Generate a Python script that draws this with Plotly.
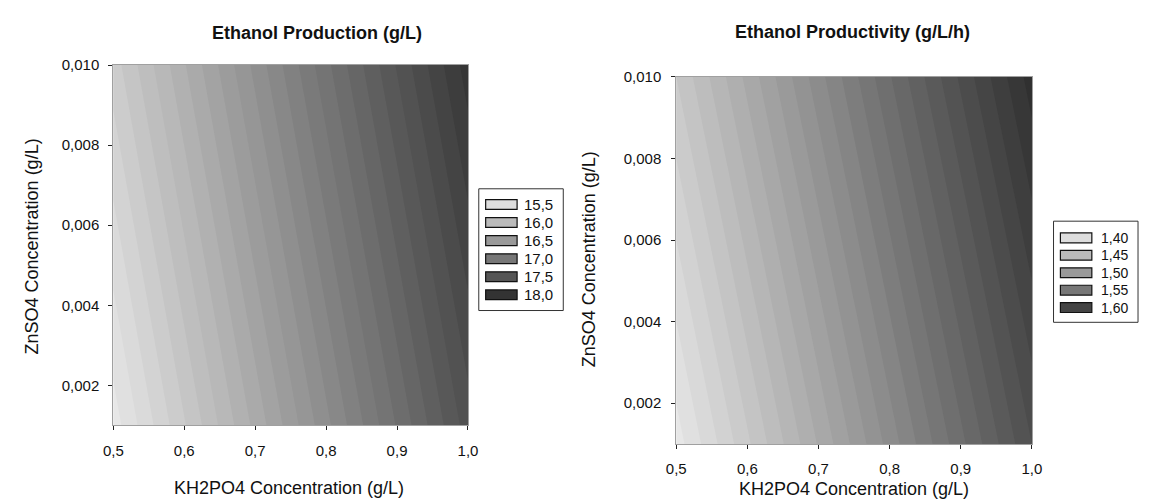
import plotly.graph_objects as go

# ---------------- data ----------------
kh2po4 = [0.5, 0.75, 1.0]            # x: KH2PO4 concentration (g/L)
znso4 = [0.001, 0.0055, 0.010]       # y: ZnSO4 concentration (g/L)

# Ethanol production (g/L), rows = znso4, cols = kh2po4
production = [
    [15.35, 16.45, 17.55],
    [15.55, 16.65, 17.75],
    [15.75, 16.85, 17.95],
]
# Ethanol productivity (g/L/h)
productivity = [
    [1.385, 1.4925, 1.600],
    [1.4075, 1.515, 1.6225],
    [1.430, 1.5375, 1.645],
]

prod_legend = ["15,5", "16,0", "16,5", "17,0", "17,5", "18,0"]
prod_legend_colors = ["#dddddd", "#bbbbbb", "#999999", "#777777", "#555555", "#333333"]
pvty_legend = ["1,40", "1,45", "1,50", "1,55", "1,60"]
pvty_legend_colors = ["#dddddd", "#bbbbbb", "#999999", "#777777", "#444444"]

titles = ["Ethanol Production (g/L)", "Ethanol Productivity (g/L/h)"]
xlabel = "KH2PO4 Concentration (g/L)"
ylabel = "ZnSO4 Concentration (g/L)"

# ---------------- layout helpers ----------------
OFF = 8                      # page body margin
W, H = 1149 - OFF, 499 - OFF
FONT = "Liberation Sans, Arial, sans-serif"


def px(x):
    return (x - OFF) / W


def py(y):
    return 1 - (y - OFF) / H


gray = [[0, "#ffffff"], [1, "#111111"]]

fig = go.Figure()
fig.add_trace(go.Contour(
    x=kh2po4, y=znso4, z=production,
    zmin=15.0, zmax=18.5, colorscale=gray, showscale=False,
    contours=dict(start=15.0, end=18.5, size=0.1, coloring="fill", showlines=False),
    line=dict(width=0), xaxis="x", yaxis="y", hoverinfo="skip",
))
fig.add_trace(go.Contour(
    x=kh2po4, y=znso4, z=productivity,
    zmin=1.35, zmax=1.70, colorscale=gray, showscale=False,
    contours=dict(start=1.35, end=1.70, size=0.01, coloring="fill", showlines=False),
    line=dict(width=0), xaxis="x2", yaxis="y2", hoverinfo="skip",
))

axis_common = dict(
    showgrid=False, zeroline=False, showline=True, linecolor="#a0a0a0", linewidth=1,
    mirror=True, ticks="outside", ticklen=4, tickcolor="#222222", tickwidth=1,
    tickfont=dict(family=FONT, size=15, color="#111111"),
)

fig.update_layout(
    width=W, height=H,
    margin=dict(l=0, r=0, t=0, b=0),
    paper_bgcolor="white", plot_bgcolor="white",
    separators=", ",
    showlegend=False,
    font=dict(family=FONT, color="#111111"),
    xaxis=dict(domain=[px(105), px(466)], range=[0.5, 1.0], tickvals=[0.5, 0.6, 0.7, 0.8, 0.9, 1.0],
               tickformat=".1f", anchor="y", ticklabelstandoff=8, **axis_common),
    yaxis=dict(domain=[py(424), py(57)], range=[0.001, 0.010], tickvals=[0.002, 0.004, 0.006, 0.008, 0.010],
               tickformat=".3f", anchor="x", ticklabelstandoff=6, **axis_common),
    xaxis2=dict(domain=[px(678), px(1040)], range=[0.5, 1.0], tickvals=[0.5, 0.6, 0.7, 0.8, 0.9, 1.0],
                tickformat=".1f", anchor="y2", ticklabelstandoff=7, **axis_common),
    yaxis2=dict(domain=[py(443), py(69)], range=[0.001, 0.010], tickvals=[0.002, 0.004, 0.006, 0.008, 0.010],
                tickformat=".3f", anchor="x2", ticklabelstandoff=7, **axis_common),
)

annotations = []
shapes = []

# titles
for text, cx, cy in [(titles[0], 312, 24), (titles[1], 857, 23)]:
    annotations.append(dict(text="<b>" + text + "</b>", x=px(cx), y=py(cy), xref="paper", yref="paper",
                            showarrow=False, xanchor="center", yanchor="middle",
                            font=dict(family=FONT, size=18, color="#111111")))
# axis titles
for cx, cy in [(284, 488), (859, 489)]:
    annotations.append(dict(text=xlabel, x=px(cx), y=py(cy), xref="paper", yref="paper",
                            showarrow=False, xanchor="center", yanchor="middle",
                            font=dict(family=FONT, size=18, color="#111111")))
for cx, cy in [(22, 242), (590, 255)]:
    annotations.append(dict(text=ylabel, x=px(cx), y=py(cy), xref="paper", yref="paper",
                            showarrow=False, xanchor="center", yanchor="middle", textangle=-90,
                            font=dict(family=FONT, size=18, color="#111111")))

# legends
legends = [
    dict(labels=prod_legend, colors=prod_legend_colors, box=(477, 183, 563, 307),
         sw=(484, 516), y0=199, dy=18.4, tx=521, fs=15),
    dict(labels=pvty_legend, colors=pvty_legend_colors, box=(1062, 216, 1148, 319),
         sw=(1069, 1101), y0=233, dy=17.75, tx=1108, fs=14),
]
for lg in legends:
    bx0, by0, bx1, by1 = lg["box"]
    shapes.append(dict(type="rect", xref="paper", yref="paper", x0=px(bx0), x1=px(bx1), y0=py(by1), y1=py(by0),
                       line=dict(color="#333333", width=1), fillcolor="white", layer="above"))
    for i, (lab, col) in enumerate(zip(lg["labels"], lg["colors"])):
        cy = lg["y0"] + i * lg["dy"]
        shapes.append(dict(type="rect", xref="paper", yref="paper", x0=px(lg["sw"][0]), x1=px(lg["sw"][1]),
                           y0=py(cy + 5), y1=py(cy - 5), line=dict(color="#111111", width=1.2),
                           fillcolor=col, layer="above"))
        annotations.append(dict(text=lab, x=px(lg["tx"]), y=py(cy), xref="paper", yref="paper",
                                showarrow=False, xanchor="left", yanchor="middle",
                                font=dict(family=FONT, size=lg["fs"], color="#111111")))

fig.update_layout(annotations=annotations, shapes=shapes)
fig.write_html("out.html")
